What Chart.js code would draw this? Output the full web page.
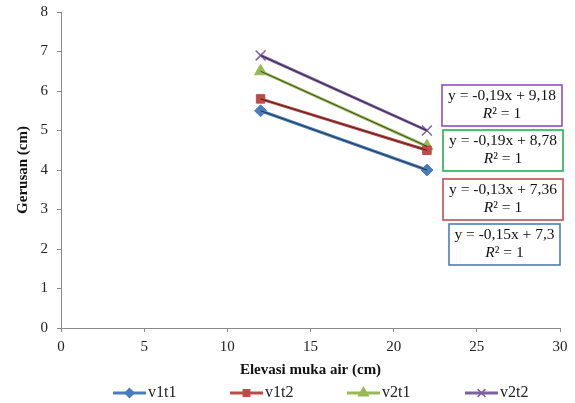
<!DOCTYPE html>
<html>
<head>
<meta charset="utf-8">
<script src="https://cdn.jsdelivr.net/npm/chart.js@4/dist/chart.umd.min.js"></script>
<style>
  html, body { margin: 0; padding: 0; background: #fff; }
  #wrap { width: 575px; height: 403px; position: relative; }
</style>
</head>
<body>
<div id="wrap"><canvas id="grafik" width="575" height="403"></canvas></div>
<script>
// data
const elevasi = [12, 22];
const v1t1 = [5.5, 4.0];
const v1t2 = [5.8, 4.5];
const v2t1 = [6.5, 4.6];
const v2t2 = [6.9, 5.0];
const seriesNames = ['v1t1', 'v1t2', 'v2t1', 'v2t2'];
const trendSlope = [-0.15, -0.13, -0.19, -0.19];
const trendIntercept = [7.3, 7.36, 8.78, 9.18];

const warna = ['#4A7EBB', '#BE4B48', '#98B954', '#7D60A0'];
const warnaKotak = ['#4A7EBB', '#C0504D', '#22B14C', '#8C4FBF'];
const marker = ['rectRot', 'rect', 'triangle', 'crossRot'];
const markerSize = [6, 6, 7, 7];
const serif = '"Liberation Serif", "Times New Roman", serif';

const allSeries = [v1t1, v1t2, v2t1, v2t2];
const toPts = arr => arr.map((y, i) => ({x: elevasi[i], y: y}));

const datasets = [];
allSeries.forEach((s, i) => {
    datasets.push({
        label: seriesNames[i],
        data: toPts(s),
        order: 1,
        borderColor: warna[i],
        backgroundColor: warna[i],
        borderWidth: 3,
        pointStyle: marker[i],
        pointRadius: markerSize[i],
        pointBorderWidth: marker[i] == 'crossRot' ? 1.5 : 1,
        pointBorderColor: warna[i],
        showLine: true
    });
});
// linear trendlines (thin black) on top
allSeries.forEach((s, i) => {
    datasets.push({
        label: 'trend ' + seriesNames[i],
        data: toPts(s),
        order: 0,
        borderColor: 'rgba(0,0,0,0.75)',
        borderWidth: 0.8,
        pointRadius: 0,
        showLine: true
    });
});

const fmt = n => String(n).replace('.', ',');

// equation boxes + legend
const extras = {
    id: 'extras',
    afterDraw(chart) {
        const c = chart.ctx;
        c.save();
        const boxes = [
            {i: 3, x: 442, y: 85, w: 120, h: 41},
            {i: 2, x: 443, y: 130, w: 120, h: 41},
            {i: 1, x: 443, y: 179, w: 120, h: 41},
            {i: 0, x: 449, y: 224, w: 111, h: 41}
        ];
        const f = '15.5px ' + serif;
        const fi = 'italic 15.5px ' + serif;
        boxes.forEach(b => {
            c.fillStyle = '#fff';
            c.fillRect(b.x, b.y, b.w, b.h);
            c.strokeStyle = warnaKotak[b.i];
            c.lineWidth = 1.6;
            c.strokeRect(b.x, b.y, b.w, b.h);
            c.fillStyle = '#111';
            c.textAlign = 'center';
            c.textBaseline = 'middle';
            c.font = f;
            const eq = 'y = ' + fmt(trendSlope[b.i]) + 'x + ' + fmt(trendIntercept[b.i]);
            c.fillText(eq, b.x + b.w / 2, b.y + 11);
            // R² line, only R italic
            const rest = '² = 1';
            c.font = fi;
            const wR = c.measureText('R').width;
            c.font = f;
            const wRest = c.measureText(rest).width;
            const x0 = b.x + b.w / 2 - (wR + wRest) / 2;
            c.textAlign = 'left';
            c.font = fi;
            c.fillText('R', x0, b.y + 29);
            c.font = f;
            c.fillText(rest, x0 + wR, b.y + 29);
        });

        // legend
        const lx = [113, 230, 347, 465];
        const ly = 393;
        seriesNames.forEach((nm, i) => {
            c.strokeStyle = warna[i];
            c.lineWidth = 3;
            c.beginPath();
            c.moveTo(lx[i], ly);
            c.lineTo(lx[i] + 33, ly);
            c.stroke();
            c.fillStyle = warna[i];
            c.lineWidth = 1.5;
            Chart.helpers.drawPoint(c, {
                pointStyle: marker[i], radius: markerSize[i] - 1.5, rotation: 0,
                borderWidth: 1.5
            }, lx[i] + 16.5, ly);
            c.fillStyle = '#222';
            c.font = '16px ' + serif;
            c.textAlign = 'left';
            c.textBaseline = 'middle';
            c.fillText(nm, lx[i] + 35, ly);
        });
        c.restore();
    }
};

const ctx = document.getElementById('grafik').getContext('2d');
const grafik = new Chart(ctx, {
    type: 'scatter',
    data: { datasets: datasets },
    options: {
        responsive: false,
        animation: false,
        layout: { padding: { left: 14, right: 15, top: 12, bottom: 24 } },
        plugins: {
            legend: { display: false },
            tooltip: { enabled: false }
        },
        scales: {
            x: {
                type: 'linear',
                min: 0, max: 30,
                ticks: { stepSize: 5, color: '#222', font: { family: serif, size: 15 }, padding: 6 },
                grid: { drawOnChartArea: false, drawTicks: true, tickLength: 4, color: '#8a8a8a' },
                border: { color: '#8a8a8a' },
                title: { display: true, text: 'Elevasi muka air (cm)', color: '#111',
                         font: { family: serif, size: 15, weight: 'bold' }, padding: { top: 0, bottom: 0 } },
                afterFit: s => { s.height = 51; }
            },
            y: {
                min: 0, max: 8,
                ticks: { stepSize: 1, color: '#222', font: { family: serif, size: 15 }, padding: 9 },
                grid: { drawOnChartArea: false, drawTicks: true, tickLength: 4, color: '#8a8a8a' },
                border: { color: '#8a8a8a' },
                title: { display: true, text: 'Gerusan (cm)', color: '#111',
                         font: { family: serif, size: 15, weight: 'bold' }, padding: { top: 0, bottom: 0 } },
                afterFit: s => { s.width = 47; s.paddingTop = 0; s.paddingBottom = 0; }
            }
        }
    },
    plugins: [extras]
});
</script>
</body>
</html>
